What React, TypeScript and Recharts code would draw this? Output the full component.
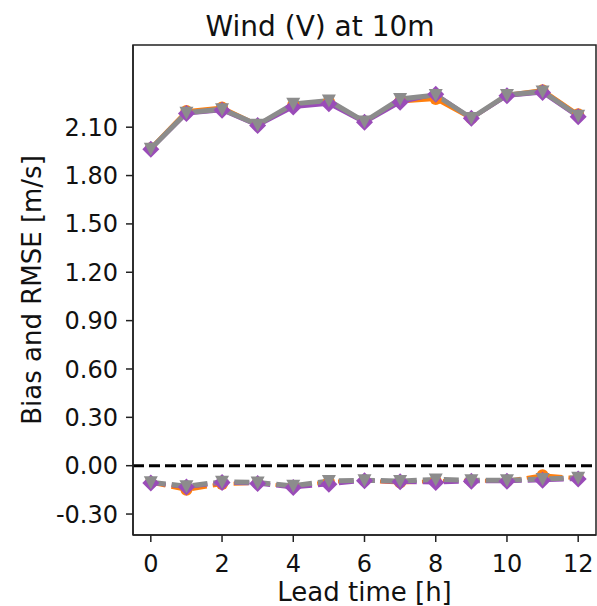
import React from 'react';
import { ComposedChart, Line, XAxis, YAxis, ReferenceLine } from 'recharts';

const leadTimes = [0, 1, 2, 3, 4, 5, 6, 7, 8, 9, 10, 11, 12];

// RMSE per model
const rmseOrange = [1.97, 2.2, 2.222, 2.115, 2.24, 2.26, 2.135, 2.26, 2.275, 2.155, 2.3, 2.33, 2.18];
const rmsePurple = [1.964, 2.185, 2.205, 2.11, 2.225, 2.245, 2.13, 2.255, 2.305, 2.155, 2.295, 2.315, 2.165];
const rmseGray = [1.966, 2.19, 2.212, 2.115, 2.245, 2.265, 2.135, 2.275, 2.3, 2.157, 2.3, 2.322, 2.171];

// bias per model
const biasOrange = [-0.105, -0.15, -0.113, -0.108, -0.13, -0.1, -0.092, -0.105, -0.095, -0.093, -0.095, -0.06, -0.078];
const biasPurple = [-0.107, -0.132, -0.105, -0.111, -0.135, -0.115, -0.094, -0.1, -0.105, -0.097, -0.097, -0.09, -0.082];
const biasGray = [-0.103, -0.127, -0.1, -0.104, -0.125, -0.095, -0.09, -0.095, -0.085, -0.09, -0.09, -0.082, -0.075];

const xTicks = [0, 2, 4, 6, 8, 10, 12];
const yTicks = [-0.3, 0, 0.3, 0.6, 0.9, 1.2, 1.5, 1.8, 2.1];
const xDomain = [-0.5, 12.5];
const yDomain = [-0.43, 2.61];

const ORANGE = '#ff7f0e';
const PURPLE = '#9a4cb8';
const GRAY = '#8c8c8c';
const FONT = 'DejaVu Sans';

// plot box
const W = 597, H = 606;
const LEFT = 133, TOP = 45, RIGHT = 1, XAXIS_H = 71;

const data = leadTimes.map((t, i) => ({
  t,
  rmseOrange: rmseOrange[i],
  rmsePurple: rmsePurple[i],
  rmseGray: rmseGray[i],
  biasOrange: biasOrange[i],
  biasPurple: biasPurple[i],
  biasGray: biasGray[i],
}));

const circleDot = (p: any) => (
  <circle key={p.key ?? p.index} cx={p.cx} cy={p.cy} r={6} fill={ORANGE} stroke="none" />
);

const diamondDot = (p: any) => {
  const s = 8.5;
  return (
    <path
      key={p.key ?? p.index}
      d={`M${p.cx},${p.cy - s}L${p.cx + s},${p.cy}L${p.cx},${p.cy + s}L${p.cx - s},${p.cy}Z`}
      fill={PURPLE}
      stroke="none"
    />
  );
};

const triangleDot = (p: any) => {
  const w = 7, h = 6;
  return (
    <path
      key={p.key ?? p.index}
      d={`M${p.cx - w},${p.cy - h}L${p.cx + w},${p.cy - h}L${p.cx},${p.cy + h + 1}Z`}
      fill={GRAY}
      stroke="none"
    />
  );
};

export default function App() {
  const tickStyle = { fontSize: 24, fill: '#111', fontFamily: FONT };
  return (
    <div style={{ position: 'absolute', left: 0, top: 0, width: W, height: H, background: '#fff' }}>
      <ComposedChart
        width={W}
        height={H}
        data={data}
        margin={{ top: TOP, right: RIGHT, bottom: 0, left: 0 }}
      >
        <XAxis
          dataKey="t"
          type="number"
          domain={xDomain}
          ticks={xTicks}
          allowDataOverflow
          height={XAXIS_H}
          tickSize={7}
          tickMargin={13}
          tick={tickStyle}
          stroke="#222"
          strokeWidth={1.5}
        />
        <YAxis
          type="number"
          domain={yDomain}
          ticks={yTicks}
          allowDataOverflow
          width={LEFT}
          tickSize={7}
          tickMargin={8}
          tick={tickStyle}
          tickFormatter={(v: number) => v.toFixed(2)}
          stroke="#222"
          strokeWidth={1.5}
        />
        <ReferenceLine y={0} stroke="#000" strokeWidth={3} strokeDasharray="11 5" />

        <Line dataKey="rmseOrange" stroke={ORANGE} strokeWidth={4} dot={circleDot} isAnimationActive={false} />
        <Line dataKey="rmsePurple" stroke={PURPLE} strokeWidth={4} dot={diamondDot} isAnimationActive={false} />
        <Line dataKey="rmseGray" stroke={GRAY} strokeWidth={5} dot={triangleDot} isAnimationActive={false} />

        <Line dataKey="biasOrange" stroke={ORANGE} strokeWidth={4} strokeDasharray="15 6" dot={circleDot} isAnimationActive={false} />
        <Line dataKey="biasPurple" stroke={PURPLE} strokeWidth={4} strokeDasharray="15 6" dot={diamondDot} isAnimationActive={false} />
        <Line dataKey="biasGray" stroke={GRAY} strokeWidth={5} strokeDasharray="15 6" dot={triangleDot} isAnimationActive={false} />
      </ComposedChart>
      <svg
        width={W}
        height={H}
        style={{ position: 'absolute', left: 0, top: 0, pointerEvents: 'none' }}
      >
        {/* axes frame (top and right spines) */}
        <rect
          x={LEFT}
          y={TOP}
          width={W - RIGHT - LEFT}
          height={H - XAXIS_H - TOP}
          fill="none"
          stroke="#222"
          strokeWidth={1.5}
        />
        <text x={320} y={36} textAnchor="middle" fontSize={28} fontFamily={FONT} fill="#111">
          Wind (V) at 10m
        </text>
        <text x={364.5} y={601} textAnchor="middle" fontSize={26} fontFamily={FONT} fill="#111">
          Lead time [h]
        </text>
        <text
          x={41}
          y={290}
          textAnchor="middle"
          fontSize={26}
          fontFamily={FONT}
          fill="#111"
          transform="rotate(-90 41 290)"
        >
          Bias and RMSE [m/s]
        </text>
      </svg>
    </div>
  );
}
